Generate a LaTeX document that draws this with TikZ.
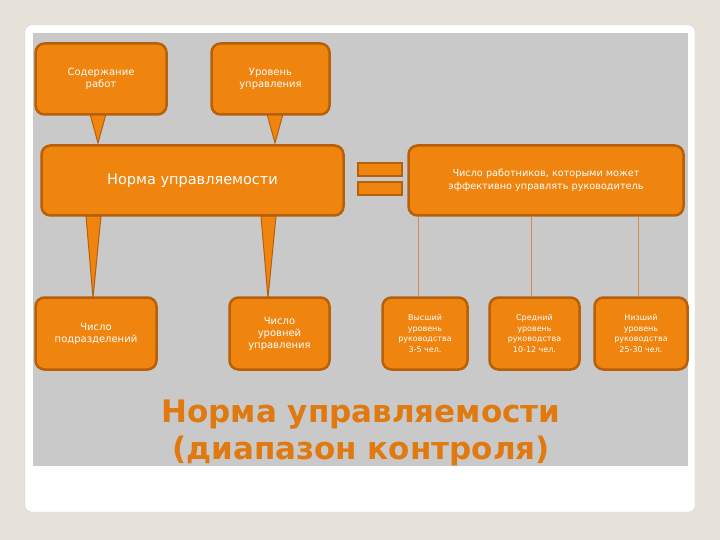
\documentclass[tikz,border=0pt]{standalone}
\usepackage{fontspec}
\setmainfont{DejaVu Sans}
\definecolor{bg}{HTML}{E6E2DA}
\definecolor{panel}{HTML}{C9C9C9}
\definecolor{ofill}{HTML}{EF840F}
\definecolor{odraw}{HTML}{B85F0A}
\definecolor{ttl}{HTML}{E07A10}
\begin{document}
\begin{tikzpicture}[x=1pt,y=-1pt,
  obox/.style={draw=odraw,fill=ofill,line width=2.5pt,rounded corners=9pt,text=white,align=center,inner sep=0pt},
  tail/.style={fill=ofill,draw=odraw,line width=1pt},
  thin/.style={draw=odraw!70,line width=0.8pt}]
\useasboundingbox (0,0) rectangle (720,540);
\fill[bg] (0,0) rectangle (720,540);
\filldraw[fill=white,draw=gray!40,rounded corners=6pt] (25,25) rectangle (695,512);
\fill[panel] (33,33) rectangle (688,466);
% tails
\filldraw[tail] (90,114) -- (106,114) -- (98,143) -- cycle;
\filldraw[tail] (267,114) -- (283,114) -- (275,143) -- cycle;
\filldraw[tail] (86,216) -- (101,216) -- (93,298) -- cycle;
\filldraw[tail] (261,216) -- (276,216) -- (268,298) -- cycle;
% boxes
\node[obox,minimum width=131pt,minimum height=71pt,font=\fontsize{10}{12}\selectfont] (a) at (101,79) {Содержание\\работ};
\node[obox,minimum width=118pt,minimum height=71pt,font=\fontsize{10}{12}\selectfont] (b) at (270.5,79) {Уровень\\управления};
\node[obox,minimum width=302pt,minimum height=70pt,font=\fontsize{14.5}{17}\selectfont] (n) at (192.5,180.5) {Норма управляемости};
\node[obox,minimum width=275pt,minimum height=70pt,font=\fontsize{9.7}{13}\selectfont] (r) at (546,180.5) {Число работников, которыми может\\эффективно управлять руководитель};
\node[obox,minimum width=121pt,minimum height=72pt,font=\fontsize{10}{12}\selectfont] (c) at (96,333.5) {Число\\подразделений};
\node[obox,minimum width=100pt,minimum height=72pt,font=\fontsize{10}{12}\selectfont] (d) at (279.5,333.5) {Число\\уровней\\управления};
\node[obox,minimum width=85pt,minimum height=72pt,font=\fontsize{8}{10.5}\selectfont] (e) at (425,333.5) {Высший\\уровень\\руководства\\3-5 чел.};
\node[obox,minimum width=90pt,minimum height=72pt,font=\fontsize{8}{10.5}\selectfont] (f) at (534.5,333.5) {Средний\\уровень\\руководства\\10-12 чел.};
\node[obox,minimum width=93pt,minimum height=72pt,font=\fontsize{8}{10.5}\selectfont] (g) at (641,333.5) {Низший\\уровень\\руководства\\25-30 чел.};
% thin connectors
\draw[thin] (r.south -| 418,0) -- (e.north -| 418,0);
\draw[thin] (r.south -| 531,0) -- (f.north -| 531,0);
\draw[thin] (r.south -| 638,0) -- (g.north -| 638,0);
% equals sign
\filldraw[fill=ofill,draw=odraw,line width=1.2pt] (358,163) rectangle (402,176);
\filldraw[fill=ofill,draw=odraw,line width=1.2pt] (358,182) rectangle (402,195);
% title
\node[text=ttl,font=\bfseries\fontsize{31}{37}\selectfont,align=center] (t) at (361,433) {Норма управляемости\\(диапазон контроля)};
\end{tikzpicture}
\end{document}
